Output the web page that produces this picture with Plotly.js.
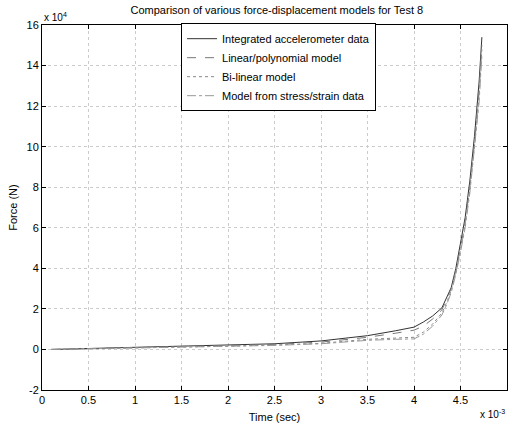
<!DOCTYPE html>
<html>
<head>
<meta charset="utf-8">
<script src="https://cdn.plot.ly/plotly-3.0.1.min.js"></script>
<style>html,body{margin:0;padding:0;background:#fff;}#chart{width:508px;height:427px;}</style>
</head>
<body>
<div id="chart"></div>
<script>
// Time in units of 1e-3 s, force in units of 1e4 N
var time = [0.1, 0.5, 1.0, 1.5, 2.0, 2.5, 3.0, 3.5, 3.8, 4.0, 4.1, 4.2, 4.3, 4.35, 4.4, 4.45, 4.5, 4.55, 4.6, 4.65, 4.7, 4.73];
var accel = [0.0, 0.05, 0.1, 0.18, 0.22, 0.28, 0.42, 0.68, 0.92, 1.1, 1.35, 1.65, 2.05, 2.55, 3.05, 4.0, 5.2, 6.5, 8.3, 10.5, 13.2, 15.4];
var linpoly = [0.0, 0.04, 0.08, 0.15, 0.19, 0.25, 0.36, 0.6, 0.8, 0.95, 1.15, 1.5, 1.95, 2.45, 3.0, 3.9, 5.0, 6.3, 8.0, 10.2, 12.8, 15.0];
var bilinear = [0.0, 0.03, 0.07, 0.12, 0.16, 0.22, 0.3, 0.5, 0.55, 0.6, 0.85, 1.25, 1.8, 2.3, 2.9, 3.8, 4.9, 6.2, 7.9, 10.0, 12.5, 14.8];
var stressStrain = [0.0, 0.03, 0.06, 0.11, 0.15, 0.2, 0.28, 0.45, 0.5, 0.52, 0.75, 1.15, 1.7, 2.2, 2.8, 3.7, 4.8, 6.0, 7.7, 9.8, 12.2, 14.5];
var names = ["Integrated accelerometer data", "Linear/polynomial model", "Bi-linear model", "Model from stress/strain data"];
var xTicks = [0, 0.5, 1, 1.5, 2, 2.5, 3, 3.5, 4, 4.5, 5];
var yTicks = [-2, 0, 2, 4, 6, 8, 10, 12, 14, 16];

var series = [accel, linpoly, bilinear, stressStrain];
var styles = [
  {color: '#333', width: 1, dash: 'solid'},
  {color: '#777', width: 1, dash: 'dash'},
  {color: '#888', width: 1, dash: 'dot'},
  {color: '#999', width: 1, dash: 'dashdot'}
];
var traces = series.map(function(s, i){
  return {x: time, y: s, type: 'scatter', mode: 'lines', name: names[i], line: styles[i]};
});

var fam = 'Liberation Sans, Arial, sans-serif';
var fnt = {family: fam, size: 11, color: '#000'};
var layout = {
  width: 508, height: 427,
  margin: {l: 42, r: 1, t: 25, b: 37},
  paper_bgcolor: '#fff', plot_bgcolor: '#fff',
  font: fnt,
  showlegend: true,
  title: {text: 'Comparison of various force-displacement models for Test 8', font: fnt, x: 0.545, xanchor: 'center', y: 0.985, yanchor: 'top'},
  xaxis: {
    range: [0, 5], tickvals: xTicks, ticktext: xTicks.map(String),
    ticks: 'inside', ticklen: 4, tickcolor: '#000', showline: true, linecolor: '#000', mirror: 'ticks',
    showgrid: true, gridcolor: '#ccc', griddash: 'dot', zeroline: false,
    title: {text: 'Time (sec)', font: fnt, standoff: 8}, tickfont: fnt
  },
  yaxis: {
    range: [-2, 16], tickvals: yTicks, ticktext: yTicks.map(String),
    ticks: 'inside', ticklen: 4, tickcolor: '#000', showline: true, linecolor: '#000', mirror: 'ticks',
    showgrid: true, gridcolor: '#ccc', griddash: 'dot', zeroline: false,
    title: {text: 'Force (N)', font: fnt, standoff: 6}, tickfont: fnt
  },
  legend: {
    x: 0.299, y: 1.005, xanchor: 'left', yanchor: 'top',
    bgcolor: '#fff', bordercolor: '#000', borderwidth: 1,
    font: {family: fam, size: 11, color: '#000'},
    tracegroupgap: 0, itemwidth: 30
  },
  annotations: [
    {text: 'x 10<sup>4</sup>', xref: 'paper', yref: 'paper', x: 0, y: 1, xanchor: 'left', yanchor: 'bottom', showarrow: false, font: {family: fam, size: 10, color: '#000'}},
    {text: 'x 10<sup>-3</sup>', xref: 'paper', yref: 'paper', x: 1, y: 0, xanchor: 'right', yanchor: 'top', showarrow: false, font: {family: fam, size: 10, color: '#000'}, yshift: -16}
  ]
};
Plotly.newPlot('chart', traces, layout, {displayModeBar: false, staticPlot: true});
</script>
</body>
</html>
